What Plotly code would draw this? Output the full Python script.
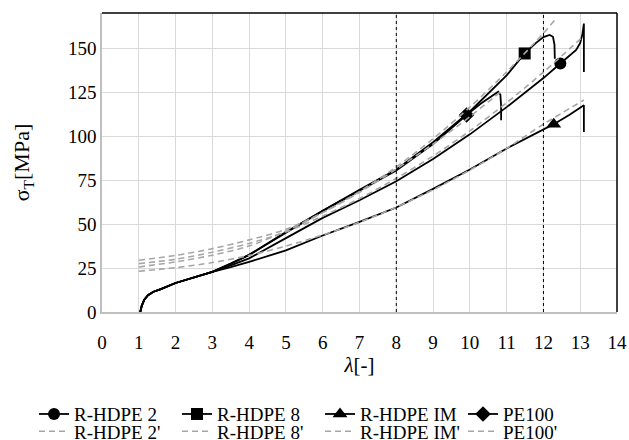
import plotly.graph_objects as go

# ---- data ----
start_x = [1.04, 1.08, 1.15, 1.25, 1.4, 1.6, 2.0, 2.5, 3.0]
start_y = [0, 3.5, 7, 9.5, 11.5, 13, 16.5, 19.7, 22.8]

hdpe2_x = start_x + [3.5, 4, 5, 6, 7, 8, 9, 10, 11, 12, 12.46, 12.7, 12.89, 13.0, 13.06, 13.1, 13.1]
hdpe2_y = start_y + [26.5, 30.5, 42, 53.5, 63.5, 74.3, 87, 101, 116.5, 133, 141.3, 145.5, 149, 153, 158, 164, 136.5]

hdpe8_x = start_x + [3.5, 4, 5, 6, 7, 8, 9, 10, 11, 11.49, 11.8, 12.0, 12.17, 12.26, 12.3, 12.31]
hdpe8_y = start_y + [27.5, 32.5, 45, 57.5, 69.5, 81, 96.5, 114, 134.5, 147, 153, 156.3, 157.5, 156.5, 152, 144]

hdpeim_x = start_x + [3.5, 4, 5, 6, 7, 8, 9, 10, 11, 12, 12.28, 12.7, 13.1, 13.1]
hdpeim_y = start_y + [25.5, 28.5, 35, 43.5, 51.2, 59.4, 70, 81, 93, 104, 106.8, 112, 117.6, 102.4]

pe100_x = start_x + [3.5, 4, 5, 6, 7, 8, 9, 9.91, 10.3, 10.6, 10.77, 10.83, 10.85, 10.85]
pe100_y = start_y + [27.5, 32.5, 45.5, 57.5, 69, 80.5, 95.5, 112, 118.5, 123, 125.2, 123.5, 117, 109]

# marker points
mark_x = {"R-HDPE 2": 12.46, "R-HDPE 8": 11.49, "R-HDPE IM": 12.28, "PE100": 9.91}
mark_y = {"R-HDPE 2": 141.3, "R-HDPE 8": 147, "R-HDPE IM": 106.8, "PE100": 112}

# fitted (dashed) curves
fit2_x = [1, 2, 3, 4, 5, 6, 7, 8, 9, 10, 11, 12, 13.1]
fit2_y = [27.5, 30, 34, 39, 45.5, 54.5, 64.5, 76, 88.7, 103, 119, 136.4, 157]

fit8_x = [1, 2, 3, 4, 5, 6, 7, 8, 9, 10, 11, 12, 12.31]
fit8_y = [25.6, 28.5, 32.3, 37.5, 46, 56.5, 68.5, 82.5, 98.5, 116.5, 136.5, 158.5, 166]

fitim_x = [1, 2, 3, 4, 5, 6, 7, 8, 9, 10, 11, 12, 13.1]
fitim_y = [23.2, 25.2, 28.1, 32.1, 37.5, 43.8, 51, 59.6, 69.5, 80.7, 93, 106.8, 120.5]

fitpe_x = [1, 2, 3, 4, 5, 6, 7, 8, 9, 10, 10.85]
fitpe_y = [29.4, 32.2, 36, 41, 47, 56.5, 68, 81.3, 95.5, 111, 125.5]

x_ticks = list(range(0, 15))
y_ticks = [0, 25, 50, 75, 100, 125, 150]
v_lines = [8, 12]

FONT = "Liberation Serif, Times New Roman, serif"
fig = go.Figure()

solid = [
    ("R-HDPE 2", hdpe2_x, hdpe2_y, "circle", 12),
    ("R-HDPE 8", hdpe8_x, hdpe8_y, "square", 12),
    ("R-HDPE IM", hdpeim_x, hdpeim_y, "triangle-up", 13),
    ("PE100", pe100_x, pe100_y, "diamond", 12),
]
for name, xs, ys, sym, sz in solid:
    fig.add_trace(go.Scatter(x=xs, y=ys, mode="lines", line=dict(color="black", width=1.8),
                             showlegend=False, legendgroup=name, hoverinfo="skip"))
for name, xs, ys, sym, sz in solid:
    fig.add_trace(go.Scatter(x=[mark_x[name]], y=[mark_y[name]], mode="lines+markers", name=name,
                             legendgroup=name, legend="legend",
                             line=dict(color="black", width=1.8),
                             marker=dict(symbol=sym, size=sz, color="black")))

dashed = [
    ("R-HDPE 2'", fit2_x, fit2_y),
    ("R-HDPE 8'", fit8_x, fit8_y),
    ("R-HDPE IM'", fitim_x, fitim_y),
    ("PE100'", fitpe_x, fitpe_y),
]
for name, xs, ys in dashed:
    fig.add_trace(go.Scatter(x=xs, y=ys, mode="lines", name=name, legend="legend2",
                             line=dict(color="#a6a6a6", width=1.6, dash="6px,4px", shape="spline", smoothing=0.8)))

shapes = []
for v in v_lines:
    shapes.append(dict(type="line", xref="x", yref="y", x0=v, x1=v, y0=0, y1=170,
                       line=dict(color="black", width=1, dash="dot")))
shapes.append(dict(type="line", xref="paper", yref="paper", x0=0, x1=1, y0=1, y1=1,
                   line=dict(color="black", width=1.5)))
shapes.append(dict(type="line", xref="paper", yref="paper", x0=1, x1=1, y0=0, y1=1,
                   line=dict(color="black", width=1.5)))

leg_common = dict(orientation="h", xanchor="left", yanchor="top",
                  font=dict(family=FONT, size=19), entrywidth=98, entrywidthmode="pixels",
                  traceorder="normal", itemwidth=30, tracegroupgap=0, bgcolor="rgba(0,0,0,0)")

fig.update_layout(
    width=629, height=440,
    margin=dict(l=102, r=12, t=13, b=128, autoexpand=False),
    paper_bgcolor="white", plot_bgcolor="white",
    font=dict(family=FONT, size=19, color="black"),
    shapes=shapes,
    showlegend=True,
    legend=dict(x=-0.132, y=-0.278, **leg_common),
    legend2=dict(x=-0.132, y=-0.336, **leg_common),
    xaxis=dict(range=[0, 14], tickvals=x_ticks, showgrid=True, gridcolor="#d9d9d9", gridwidth=1,
               showline=True, linecolor="#bfbfbf", linewidth=1.5, zeroline=False, ticks="",
               ticklabelstandoff=12,
               title=dict(text="<i>λ</i>[-]", font=dict(family=FONT, size=21), standoff=4),
               tickfont=dict(family=FONT, size=19)),
    yaxis=dict(range=[0, 170], tickvals=y_ticks, showgrid=True, gridcolor="#d9d9d9", gridwidth=1,
               showline=True, linecolor="#bfbfbf", linewidth=1.5, zeroline=False, ticks="",
               ticksuffix="\u00a0\u00a0",
               title=dict(text="σ<sub>T</sub>[MPa]", font=dict(family=FONT, size=22), standoff=32),
               tickfont=dict(family=FONT, size=19)),
)

fig.write_html("out.html")
